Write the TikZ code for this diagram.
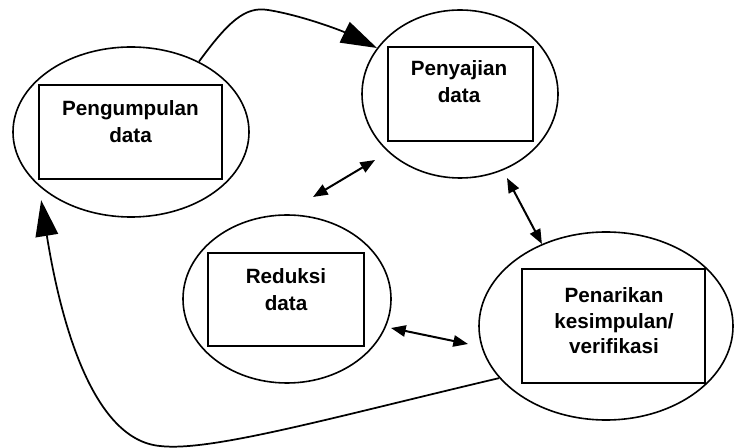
\documentclass[tikz,border=0pt]{standalone}
\usepackage{fontspec}
\setmainfont{Liberation Sans}
\usetikzlibrary{shapes.geometric,arrows.meta}
\begin{document}
\begin{tikzpicture}[x=0.75pt,y=-0.75pt,
  oval/.style={draw,ellipse,inner sep=0pt,line width=1.2pt},
  box/.style={draw,rectangle,inner sep=0pt,line width=1.4pt},
  txt/.style={inner sep=0pt,align=center,anchor=north,font=\fontsize{15.5}{20.25}\selectfont\bfseries},
  bigarrow/.style={line width=1.3pt,arrows={-Triangle[length=27pt,width=17pt]}},
  dbl/.style={line width=1.5pt,arrows={Triangle[length=11pt,width=8.5pt]-Triangle[length=11pt,width=8.5pt]}}]
\useasboundingbox (0,0) rectangle (734,448);
% ellipses
\node[oval,minimum width=177pt,minimum height=127.5pt] (peng) at (131,132) {};
\node[oval,minimum width=147pt,minimum height=126pt] (penya) at (460,94) {};
\node[oval,minimum width=156pt,minimum height=126pt] (red) at (287,299) {};
\node[oval,minimum width=190.5pt,minimum height=141pt] (pen) at (606,326) {};
% boxes
\node[box,minimum width=137.25pt,minimum height=70.5pt] (r1) at (130.5,132) {};
\node[box,minimum width=108.75pt,minimum height=70.5pt] (r2) at (460.5,94) {};
\node[box,minimum width=117pt,minimum height=69.75pt] (r3) at (286,299.5) {};
\node[box,minimum width=137.25pt,minimum height=85.5pt] (r4) at (613.5,326) {};
% texts
\node[txt] (t1) at (130.5,100) {Pengumpulan\\data};
\node[txt] (t2) at (459,60.5) {Penyajian\\data};
\node[txt] (t3) at (286,268.5) {Reduksi\\data};
\node[txt,font=\fontsize{15.5}{19.2}\selectfont\bfseries] (t4) at (614,287.5) {Penarikan\\kesimpulan/\\verifikasi};
% free ends of the double arrows
\coordinate (a1s) at (313,197);
\coordinate (a1e) at (375,160);
\coordinate (a2s) at (507,178);
\coordinate (a3s) at (391,328);
\coordinate (a3e) at (468,344);
% connectors
\draw[bigarrow] (peng.46) .. controls (228,22) and (245,6) .. (268,10)
  .. controls (300,15) and (340,30) .. (penya.151);
\draw[bigarrow] (pen.206) .. controls (330,418) and (210,452) .. (160,446)
  .. controls (95,440) and (62,330) .. ([yshift=-9pt]peng.212);
\draw[dbl] (a1s) -- (a1e);
\draw[dbl] (a2s) -- (pen.128);
\draw[dbl] (a3s) -- (a3e);
\end{tikzpicture}
\end{document}
